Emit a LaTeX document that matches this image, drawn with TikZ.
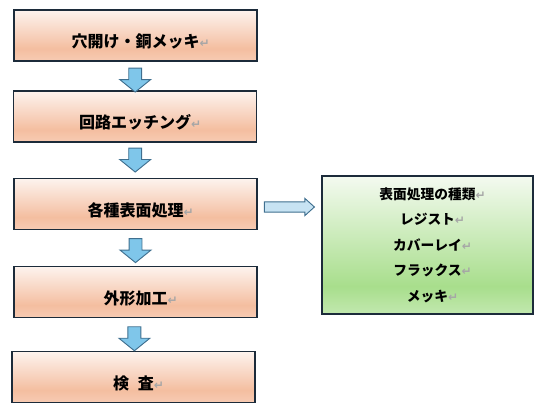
\documentclass[tikz,border=0pt]{standalone}
\usepackage{fontspec}
\newfontfamily\jpfont{Noto Sans CJK JP}
\newfontfamily\symfont{DejaVu Sans}
\usetikzlibrary{shapes.arrows,calc}
\definecolor{peachtop}{HTML}{FDF3EE}
\definecolor{peachmid}{HTML}{F4BEA0}
\definecolor{peachbot}{HTML}{F7CBB3}
\definecolor{greentop}{HTML}{F4FAF0}
\definecolor{greenmid}{HTML}{A8DE8C}
\definecolor{greenbot}{HTML}{C2E8AF}
\definecolor{boxline}{HTML}{1C2B3A}
\definecolor{arrowfill}{HTML}{7FC6EA}
\definecolor{arrowline}{HTML}{3F6F8F}
\definecolor{sidefill}{HTML}{C7E3F3}
\definecolor{markgray}{HTML}{A6A6A6}
\pgfdeclareverticalshading{peachshade}{100bp}{color(0bp)=(peachbot); color(25bp)=(peachbot); color(37bp)=(peachmid); color(75bp)=(peachtop); color(100bp)=(peachtop)}
\pgfdeclareverticalshading{greenshade}{100bp}{color(0bp)=(greenbot); color(25bp)=(greenbot); color(35bp)=(greenmid); color(75bp)=(greentop); color(100bp)=(greentop)}
\newcommand{\retmark}{\textcolor{markgray}{\symfont\fontsize{9}{9}\selectfont ↵}}

\begin{document}
\begin{tikzpicture}[x=0.75pt, y=-0.75pt,
    process/.style ={rectangle, draw=boxline, line width=1.1pt, shading=peachshade,
      minimum width=182pt, minimum height=38pt, text height=18pt, text depth=0pt,
      font=\jpfont\bfseries\fontsize{12}{12}\selectfont},
    kindsbox/.style ={rectangle, draw=boxline, line width=1.1pt, shading=greenshade,
      minimum width=158pt, minimum height=103.5pt, align=center,
      font=\jpfont\bfseries\fontsize{10.3}{19.1}\selectfont},
    downarrow/.style ={single arrow, draw=arrowline, fill=arrowfill, line width=0.7pt,
      rotate=-90, inner xsep=0pt, inner ysep=4.5pt, minimum height=18pt,
      single arrow head extend=6.75pt, single arrow tip angle=102},
    sidearrow/.style ={single arrow, draw=arrowline, fill=sidefill, line width=0.7pt,
      inner xsep=0pt, inner ysep=3.5pt, minimum height=37.5pt,
      single arrow head extend=2.6pt, single arrow tip angle=84}]
   \useasboundingbox (0,0) rectangle (542,410);
   \node[process] (hole)    at (135.5,35.5)  {穴開け・銅メッキ\rlap{\retmark}};
   \node[process] (etch)    at (135,116.5)   {回路エッチング\rlap{\retmark}};
   \node[process] (surf)    at (135.5,204)   {各種表面処理\rlap{\retmark}};
   \node[process] (outline) at (135.5,292)   {外形加工\rlap{\retmark}};
   \node[process] (inspect) at (133.5,377)   {検\hspace{0.55em}査\rlap{\retmark}};
   \node[kindsbox] (kinds)  at (427.5,245)   {表面処理の種類\rlap{\retmark}\\
     レジスト\rlap{\retmark}\\ カバーレイ\rlap{\retmark}\\
     フラックス\rlap{\retmark}\\ メッキ\rlap{\retmark}};
   \node[downarrow] (a1) at ($(hole.south)!0.55!(etch.north)$) {};
   \node[downarrow] (a2) at ($(etch.south)!0.42!(surf.north)$) {};
   \node[downarrow] (a3) at ($(surf.south)!0.5!(outline.north)$) {};
   \node[downarrow] (a4) at ($(outline.south)!0.55!(inspect.north)$) {};
   \node[sidearrow] (a5) at ($(surf.east)+(29,3)$) {};
 \end{tikzpicture}
\end{document}
